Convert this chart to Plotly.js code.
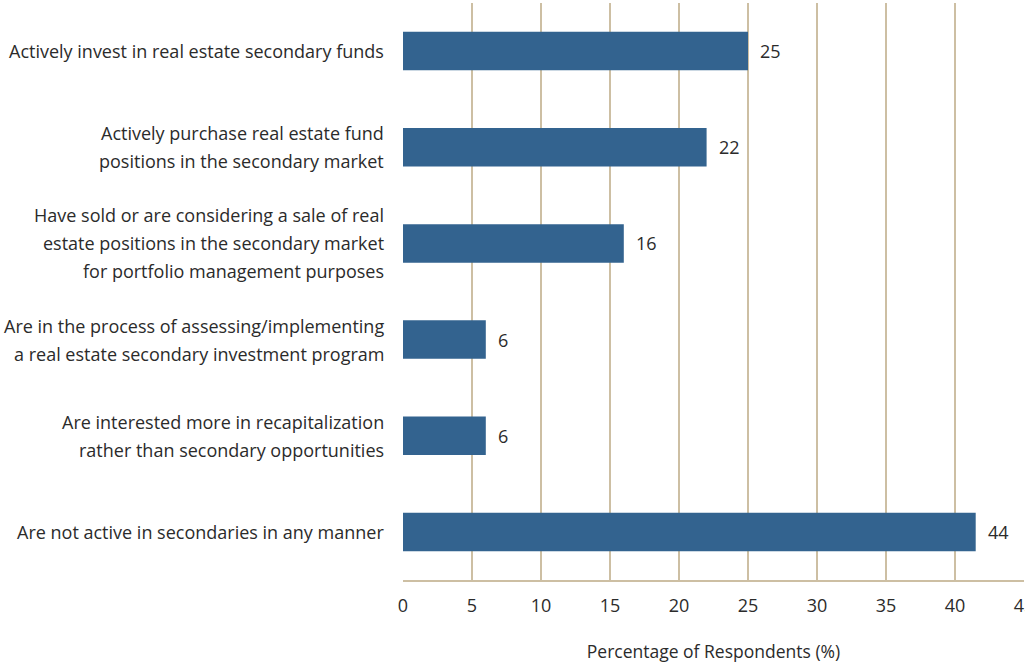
<!DOCTYPE html>
<html>
<head>
<meta charset="utf-8">
<script src="https://cdn.plot.ly/plotly-3.0.1.min.js"></script>
<style>html,body{margin:0;padding:0;background:#fff;}#chart{width:1025px;height:667px;}</style>
</head>
<body>
<div id="chart"></div>
<script>
// Categories (top to bottom as in the picture)
const categories = [
  "Actively invest in real estate secondary funds",
  "Actively purchase real estate fund<br>positions in the secondary market",
  "Have sold or are considering a sale of real<br>estate positions in the secondary market<br>for portfolio management purposes",
  "Are in the process of assessing/implementing<br>a real estate secondary investment program",
  "Are interested more in recapitalization<br>rather than secondary opportunities",
  "Are not active in secondaries in any manner"
];
// Bar lengths as drawn in the reference
const values = [25, 22, 16, 6, 6, 41.5];
// Value labels as printed in the reference
const valueLabels = ["25", "22", "16", "6", "6", "44"];
const tickValues = [0, 5, 10, 15, 20, 25, 30, 35, 40, 45];

const FONT = "'Open Sans', Lato, sans-serif";
const GRID = "#CDBFA3";
const LINE_H = 28;
const TXT = "#2b2b2b";

const annotations = [];
categories.forEach(function (cat) {
  const lines = cat.split("<br>");
  const n = lines.length;
  lines.forEach(function (ln, i) {
    annotations.push({
      xref: "paper", yref: "y", x: 0, y: cat,
      xanchor: "right", yanchor: "middle",
      xshift: -17, yshift: ((n - 1) / 2 - i) * LINE_H,
      text: ln, showarrow: false,
      font: {family: FONT, size: 18, color: TXT}
    });
  });
});
categories.forEach(function (cat, i) {
  annotations.push({
    xref: "x", yref: "y", x: values[i], y: cat,
    xanchor: "left", yanchor: "middle", xshift: 10,
    text: valueLabels[i], showarrow: false,
    font: {family: FONT, size: 18, color: TXT}
  });
});

const trace = {
  type: "bar",
  orientation: "h",
  y: categories,
  x: values,
  marker: {color: "#33638F"},
  hoverinfo: "none"
};

const layout = {
  width: 1025, height: 667,
  margin: {l: 403, r: 1, t: 3, b: 87},
  paper_bgcolor: "#fff", plot_bgcolor: "#fff",
  showlegend: false,
  bargap: 0.6,
  font: {family: FONT, size: 17, color: TXT},
  xaxis: {
    range: [0, 45],
    tickvals: tickValues,
    ticktext: tickValues.map(String),
    ticklabeloverflow: "allow",
    showgrid: true, gridcolor: GRID, gridwidth: 1.5,
    zeroline: false,
    showline: true, linecolor: GRID, linewidth: 2,
    ticks: "outside", ticklen: 8, tickcolor: "rgba(0,0,0,0)",
    tickfont: {family: FONT, size: 18, color: TXT},
    title: {text: "Percentage of Respondents (%)", standoff: 30, font: {family: FONT, size: 17.5, color: TXT}},
    fixedrange: true
  },
  yaxis: {
    type: "category",
    categoryorder: "array",
    categoryarray: categories.slice().reverse(),
    showticklabels: false,
    showgrid: false, zeroline: false, showline: false,
    fixedrange: true
  },
  annotations: annotations
};

Plotly.newPlot("chart", [trace], layout, {displayModeBar: false, staticPlot: true});
</script>
</body>
</html>
